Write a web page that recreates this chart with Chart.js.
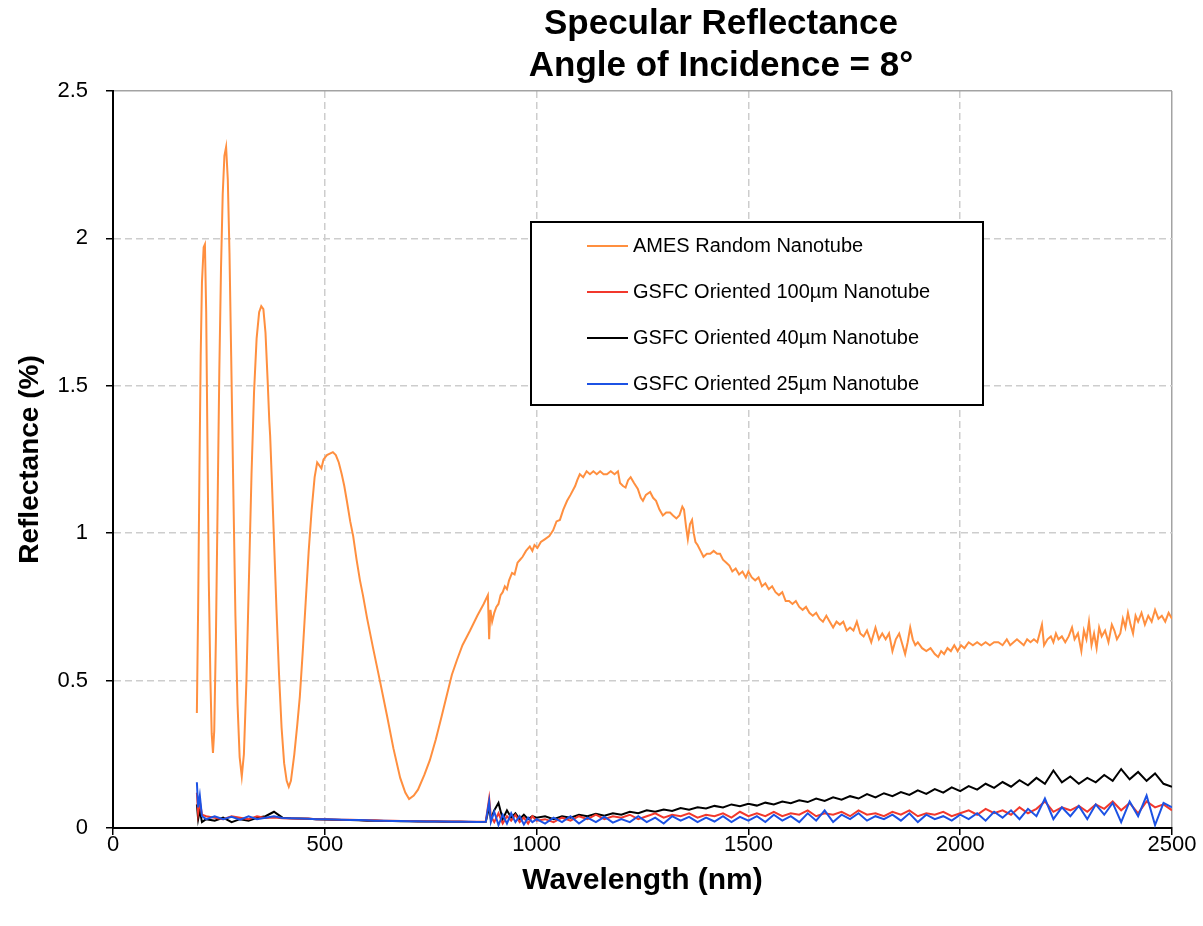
<!DOCTYPE html>
<html>
<head>
<meta charset="utf-8">
<script src="https://cdn.jsdelivr.net/npm/chart.js@4.4.1/dist/chart.umd.min.js"></script>
<style>
  body { margin: 0; background: #fff; }
  #wrap { position: relative; width: 1203px; height: 926px; }
  #titulo {
    position: absolute; left: 421px; top: 1px; width: 600px;
    text-align: center; font: bold 35px "Liberation Sans", Arial, sans-serif;
    line-height: 42px; color: #000;
  }
</style>
</head>
<body>
<div id="wrap">
  <canvas id="grafico" width="1203" height="926"></canvas>
  <div id="titulo">Specular Reflectance<br>Angle of Incidence = 8°</div>
</div>
<script>
// labels
const nomes = ["AMES Random Nanotube", "GSFC Oriented 100µm Nanotube",
  "GSFC Oriented 40µm Nanotube", "GSFC Oriented 25µm Nanotube"];
const cores = ["#ff8f3f", "#f2382c", "#000000", "#1c52e4"];

// AMES curve (wavelength nm, reflectance %)
const amesWl = [198,201,204,207,210,214,217,220,223,226,230,233,236,239,243,247,251,255,259,263,267,271,275,279,284,289,294,299,304,309,315,321,327,333,339,345,350,355,360,365,369,371,375,380,386,392,398,404,410,415,420,428,435,441,448,455,462,469,476,482,487,492,497,505,512,519,526,533,540,546,552,560,567,575,583,590,600,614,630,647,662,678,690,699,710,720,735,748,762,776,788,800,812,825,843,860,875,885,888,891,895,900,905,910,915,920,925,930,935,942,948,955,961,967,975,984,990,995,1002,1010,1020,1030,1039,1047,1055,1063,1072,1080,1091,1096,1102,1110,1118,1126,1134,1142,1150,1158,1166,1175,1184,1192,1197,1204,1210,1216,1222,1230,1239,1246,1251,1258,1268,1275,1282,1290,1298,1306,1315,1322,1330,1337,1344,1348,1353,1357,1362,1367,1371,1375,1380,1387,1394,1402,1410,1418,1426,1433,1440,1448,1455,1462,1470,1478,1486,1494,1500,1508,1516,1524,1532,1540,1548,1556,1564,1572,1580,1588,1596,1604,1612,1620,1628,1636,1644,1652,1660,1668,1676,1684,1692,1700,1708,1716,1724,1732,1740,1748,1756,1764,1772,1780,1790,1800,1808,1816,1824,1832,1840,1848,1856,1864,1870,1876,1882,1888,1894,1900,1910,1920,1930,1940,1948,1955,1962,1970,1978,1986,1994,2002,2010,2020,2030,2040,2050,2060,2070,2080,2090,2100,2110,2118,2126,2134,2142,2150,2158,2166,2174,2182,2193,2198,2206,2214,2220,2226,2232,2240,2248,2256,2264,2270,2278,2286,2292,2298,2304,2310,2316,2322,2328,2334,2342,2350,2358,2364,2370,2378,2384,2390,2396,2402,2408,2414,2420,2428,2436,2444,2452,2460,2468,2476,2484,2492,2500];
const amesR = [0.39,0.75,1.2,1.6,1.85,1.97,1.98,1.75,1.3,0.85,0.5,0.32,0.255,0.33,0.65,1.1,1.55,1.9,2.15,2.28,2.31,2.2,1.95,1.6,1.15,0.72,0.42,0.24,0.175,0.25,0.5,0.85,1.2,1.48,1.66,1.75,1.77,1.76,1.68,1.52,1.38,1.33,1.18,0.98,0.74,0.52,0.34,0.22,0.16,0.14,0.16,0.25,0.35,0.445,0.6,0.77,0.94,1.08,1.19,1.24,1.23,1.22,1.25,1.265,1.27,1.275,1.265,1.24,1.2,1.16,1.11,1.04,0.99,0.91,0.84,0.79,0.71,0.61,0.5,0.38,0.27,0.17,0.12,0.098,0.11,0.13,0.18,0.23,0.3,0.38,0.45,0.52,0.57,0.62,0.67,0.72,0.76,0.79,0.64,0.74,0.7,0.73,0.75,0.76,0.79,0.8,0.82,0.81,0.84,0.865,0.86,0.9,0.91,0.92,0.94,0.955,0.94,0.96,0.95,0.97,0.98,0.99,1.01,1.04,1.045,1.08,1.11,1.13,1.16,1.18,1.2,1.19,1.21,1.2,1.21,1.2,1.21,1.2,1.2,1.21,1.2,1.21,1.17,1.16,1.155,1.18,1.19,1.17,1.15,1.12,1.11,1.13,1.14,1.12,1.11,1.08,1.06,1.07,1.07,1.06,1.05,1.06,1.09,1.08,1.02,0.98,1.03,1.045,1.0,0.97,0.96,0.94,0.92,0.93,0.93,0.94,0.93,0.93,0.91,0.9,0.89,0.87,0.88,0.86,0.87,0.85,0.87,0.85,0.84,0.85,0.82,0.83,0.81,0.82,0.8,0.79,0.8,0.77,0.77,0.76,0.77,0.75,0.74,0.75,0.73,0.72,0.73,0.71,0.7,0.72,0.7,0.68,0.7,0.69,0.7,0.67,0.68,0.67,0.7,0.66,0.65,0.67,0.63,0.68,0.64,0.66,0.64,0.66,0.6,0.64,0.66,0.62,0.59,0.63,0.68,0.64,0.62,0.63,0.61,0.6,0.61,0.59,0.58,0.6,0.59,0.61,0.6,0.62,0.6,0.62,0.61,0.63,0.62,0.63,0.62,0.63,0.62,0.63,0.63,0.62,0.64,0.62,0.63,0.64,0.63,0.62,0.64,0.63,0.64,0.63,0.69,0.62,0.64,0.65,0.63,0.66,0.64,0.65,0.63,0.65,0.68,0.64,0.66,0.6,0.67,0.64,0.7,0.62,0.66,0.61,0.68,0.65,0.67,0.63,0.69,0.67,0.64,0.66,0.71,0.68,0.73,0.69,0.66,0.72,0.7,0.73,0.69,0.72,0.7,0.74,0.71,0.72,0.7,0.73,0.71];

// GSFC samples share one wavelength grid
const gsfcWl = [198,201,205,210,220,240,260,280,300,320,340,360,380,400,420,440,460,480,500,520,540,560,580,600,620,640,660,680,700,720,740,760,780,800,820,840,860,880,888,892,900,910,920,930,940,950,960,970,980,990,1000,
  1020,1040,1060,1080,1100,1120,1140,1160,1180,1200,1220,1240,1260,1280,1300,1320,1340,1360,1380,1400,1420,1440,1460,1480,1500,1520,1540,1560,1580,1600,1620,1640,1660,1680,1700,1720,1740,1760,1780,1800,1820,1840,1860,1880,1900,1920,1940,1960,1980,2000,2020,2040,2060,2080,2100,2120,2140,2160,2180,2200,2220,2240,2260,2280,2300,2320,2340,2360,2380,2400,2420,2440,2460,2480,2500];
const gsfc100 = [0.12,0.05,0.09,0.045,0.04,0.035,0.03,0.04,0.035,0.03,0.04,0.034,0.036,0.033,0.032,0.031,0.032,0.03,0.03,0.029,0.028,0.028,0.027,0.026,0.026,0.025,0.025,0.024,0.024,0.023,0.023,0.023,0.022,0.022,0.022,0.021,0.021,0.022,0.1,0.04,0.02,0.05,0.015,0.04,0.025,0.045,0.02,0.035,0.015,0.04,0.025,
  0.03,0.02,0.035,0.025,0.04,0.03,0.045,0.03,0.04,0.035,0.045,0.03,0.04,0.05,0.035,0.045,0.04,0.05,0.035,0.045,0.04,0.05,0.035,0.055,0.04,0.05,0.04,0.055,0.04,0.05,0.045,0.06,0.04,0.05,0.045,0.055,0.04,0.06,0.045,0.05,0.04,0.055,0.045,0.06,0.04,0.05,0.045,0.055,0.04,0.05,0.06,0.045,0.065,0.05,0.06,0.045,0.07,0.05,0.065,0.09,0.055,0.07,0.06,0.075,0.055,0.08,0.065,0.09,0.06,0.085,0.05,0.09,0.07,0.08,0.06];
const gsfc40 = [0.08,0.03,0.06,0.02,0.03,0.025,0.035,0.02,0.03,0.025,0.035,0.04,0.055,0.035,0.033,0.032,0.031,0.03,0.029,0.028,0.027,0.027,0.026,0.025,0.025,0.024,0.024,0.023,0.023,0.022,0.022,0.022,0.021,0.021,0.021,0.02,0.02,0.021,0.07,0.03,0.06,0.085,0.03,0.06,0.035,0.05,0.03,0.045,0.03,0.04,0.035,
  0.04,0.03,0.04,0.035,0.045,0.04,0.048,0.042,0.05,0.045,0.055,0.05,0.06,0.055,0.063,0.058,0.068,0.062,0.07,0.066,0.075,0.07,0.08,0.074,0.082,0.076,0.086,0.08,0.09,0.084,0.094,0.088,0.1,0.092,0.104,0.096,0.108,0.1,0.115,0.104,0.118,0.108,0.122,0.112,0.128,0.116,0.132,0.12,0.138,0.125,0.142,0.13,0.15,0.136,0.156,0.14,0.162,0.145,0.17,0.15,0.195,0.155,0.175,0.15,0.17,0.155,0.18,0.16,0.2,0.165,0.19,0.16,0.185,0.15,0.14];
const gsfc25 = [0.155,0.07,0.11,0.04,0.03,0.04,0.03,0.038,0.028,0.04,0.03,0.035,0.04,0.034,0.033,0.032,0.031,0.03,0.03,0.029,0.028,0.027,0.027,0.026,0.025,0.025,0.024,0.024,0.023,0.023,0.022,0.022,0.022,0.021,0.021,0.021,0.02,0.021,0.09,0.02,0.055,0.01,0.045,0.015,0.05,0.02,0.04,0.012,0.035,0.02,0.03,
  0.015,0.035,0.02,0.04,0.015,0.035,0.02,0.038,0.018,0.03,0.02,0.04,0.02,0.035,0.015,0.04,0.025,0.038,0.02,0.035,0.022,0.04,0.02,0.038,0.025,0.04,0.02,0.045,0.025,0.04,0.02,0.05,0.025,0.06,0.02,0.045,0.03,0.05,0.025,0.04,0.03,0.045,0.025,0.05,0.02,0.045,0.03,0.04,0.025,0.045,0.03,0.05,0.025,0.055,0.035,0.06,0.03,0.065,0.04,0.1,0.03,0.07,0.04,0.075,0.03,0.08,0.045,0.085,0.02,0.09,0.04,0.11,0.01,0.085,0.07];

const xTicks = [0, 500, 1000, 1500, 2000, 2500];
const yTicks = [0, 0.5, 1, 1.5, 2, 2.5];

function juntaPontos(xs, ys){
    let pontos = [];
    for(let i=0; i<xs.length; i++){
        pontos.push({x: xs[i], y: ys[i]});
    }
    return pontos;
}

// legend box drawn inside the plot area
const legendaDentro = {
    id: 'legendaDentro',
    afterDraw(chart){
        const ctx = chart.ctx;
        const area = chart.chartArea;
        const bx = area.left + 418, by = area.top + 131;
        ctx.save();
        ctx.fillStyle = '#fff';
        ctx.fillRect(bx, by, 452, 183);
        ctx.strokeStyle = '#000';
        ctx.lineWidth = 2;
        ctx.strokeRect(bx, by, 452, 183);
        ctx.font = '20px "Liberation Sans", Arial, sans-serif';
        ctx.textBaseline = 'middle';
        const linhas = [0, 1, 2, 3];
        for(let i=0; i<linhas.length; i++){
            const ds = chart.data.datasets[linhas[i]];
            const ly = by + 24 + i*46;
            ctx.strokeStyle = ds.borderColor;
            ctx.lineWidth = 2;
            ctx.beginPath();
            ctx.moveTo(bx + 56, ly);
            ctx.lineTo(bx + 97, ly);
            ctx.stroke();
            ctx.fillStyle = '#000';
            ctx.fillText(ds.label, bx + 102, ly);
        }
        ctx.restore();
    }
};

const gradeCor = (ctx) => (ctx.tick && (ctx.tick.value === 2.5 || ctx.tick.value === 2500)) ? '#a3a3a3' : '#cdcdcd';
const gradeTraco = (ctx) => (ctx.tick && (ctx.tick.value === 2.5 || ctx.tick.value === 2500)) ? [] : [7, 4];

Chart.defaults.font.family = '"Liberation Sans", Arial, sans-serif';
Chart.defaults.color = '#000';

const canvas = document.getElementById('grafico');
const grafico = new Chart(canvas, {
    type: 'line',
    data: {
        datasets: [
            { label: nomes[0], data: juntaPontos(amesWl, amesR), borderColor: cores[0], order: 0 },
            { label: nomes[1], data: juntaPontos(gsfcWl, gsfc100), borderColor: cores[1], order: 2 },
            { label: nomes[2], data: juntaPontos(gsfcWl, gsfc40), borderColor: cores[2], order: 3 },
            { label: nomes[3], data: juntaPontos(gsfcWl, gsfc25), borderColor: cores[3], order: 1 }
        ]
    },
    options: {
        responsive: false,
        animation: false,
        layout: { padding: { top: 91, right: 31, left: 0, bottom: 0 } },
        elements: {
            point: { radius: 0 },
            line: { borderWidth: 2, tension: 0, fill: false }
        },
        plugins: {
            legend: { display: false },
            tooltip: { enabled: false },
            title: { display: false }
        },
        scales: {
            x: {
                type: 'linear',
                min: 0, max: 2500,
                afterBuildTicks: (scale) => { scale.ticks = xTicks.map(v => ({value: v})); },
                afterFit: (scale) => { scale.height = 98; },
                ticks: { font: { size: 22, lineHeight: 1 }, padding: -1, callback: (v) => String(v) },
                grid: { color: gradeCor, lineWidth: 1.5, tickColor: '#000', tickLength: 7, tickWidth: 1.5 },
                border: { color: '#000', width: 2, dash: gradeTraco },
                title: { display: true, text: 'Wavelength (nm)', font: { size: 30, weight: 'bold' }, padding: { top: 0, bottom: 27 } }
            },
            y: {
                min: 0, max: 2.5,
                afterBuildTicks: (scale) => { scale.ticks = yTicks.map(v => ({value: v})); },
                afterFit: (scale) => { scale.width = 113; },
                ticks: { font: { size: 22 }, padding: 18, callback: (v) => String(v) },
                grid: { color: gradeCor, lineWidth: 1.5, tickColor: '#000', tickLength: 7, tickWidth: 1.5 },
                border: { color: '#000', width: 2, dash: gradeTraco },
                title: { display: true, text: 'Reflectance (%)', font: { size: 28, weight: 'bold' }, padding: { top: 13, bottom: 0 } }
            }
        }
    },
    plugins: [legendaDentro]
});
</script>
</body>
</html>
